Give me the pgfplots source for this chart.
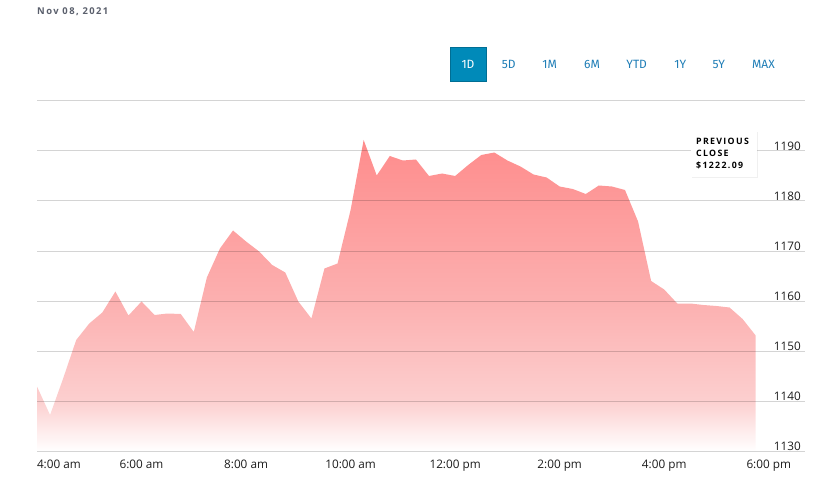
\documentclass[border=0pt]{standalone}
\usepackage{fontspec}
\usepackage{pgfplots}
\pgfplotsset{compat=1.18}
\usetikzlibrary{shadows}

\setmainfont{Open Sans}
\newfontfamily\btnfont{Fira Sans}
\newfontfamily\spaced[LetterSpace=15]{Open Sans}

\definecolor{btnblue}{RGB}{0,138,185}
\definecolor{btntext}{RGB}{30,125,182}
\definecolor{datec}{RGB}{90,95,108}
\definecolor{tickc}{RGB}{28,28,28}
\definecolor{fadeA}{RGB}{252,207,207}
\definecolor{fadeB}{RGB}{252,176,176}
\definecolor{fadeC}{RGB}{254,140,140}

% bounding box of the area maps to 25bp..75bp
\pgfdeclareverticalshading{areafade}{100bp}{color(0bp)=(white); color(25bp)=(white);
  color(33bp)=(fadeA); color(49bp)=(fadeB); color(75bp)=(fadeC); color(100bp)=(fadeC)}

% hours after 4:00 am, price
\pgfplotstableread{
x y
0 1130
0 1142.9
0.25 1137.2
0.5 1144.5
0.75 1152.2
1 1155.5
1.25 1157.7
1.5 1161.9
1.75 1157.1
2 1159.9
2.25 1157.2
2.5 1157.5
2.75 1157.4
3 1153.8
3.25 1164.7
3.5 1170.5
3.75 1174.1
4 1171.9
4.25 1169.9
4.5 1167.2
4.75 1165.7
5 1159.9
5.25 1156.5
5.5 1166.5
5.75 1167.5
6 1178.2
6.25 1192.2
6.5 1185.1
6.75 1189.0
7 1188.1
7.25 1188.3
7.5 1185.0
7.75 1185.5
8 1185.0
8.25 1187.2
8.5 1189.2
8.75 1189.7
9 1188.1
9.25 1186.9
9.5 1185.3
9.75 1184.7
10 1182.9
10.25 1182.4
10.5 1181.4
10.75 1183.1
11 1182.9
11.25 1182.2
11.5 1175.9
11.75 1164.0
12 1162.3
12.25 1159.5
12.5 1159.5
12.75 1159.2
13 1159.0
13.25 1158.7
13.5 1156.4
13.75 1153.1
13.75 1130
}\pricedata

\begin{document}
\begin{tikzpicture}
\path[use as bounding box] (0pt,0pt) rectangle (838pt,488pt);

\begin{axis}[
    at={(37pt,37pt)}, anchor=south west,
    scale only axis, width=768pt, height=350pt,
    xmin=0, xmax=14.694, ymin=1130, ymax=1200,
    axis line style={draw=none},
    major tick length=0pt,
    axis on top,
    ymajorgrids,
    grid style={draw=black, opacity=0.17, line width=1pt},
    ytick={1130,1140,1150,1160,1170,1180,1190,1200},
    yticklabels={1130,1140,1150,1160,1170,1180,1190,{}},
    yticklabel pos=right,
    yticklabel style={anchor=south east, inner sep=0pt, xshift=-4pt, yshift=0.6pt,
        font=\fontsize{11.75}{14}\selectfont, text=tickc},
    xtick={0,2,4,6,8,10,12,14},
    xticklabels={\makebox[0pt][l]{4:00 am},6:00 am,8:00 am,10:00 am,12:00 pm,2:00 pm,4:00 pm,6:00 pm},
    xticklabel style={anchor=north, inner sep=0pt, yshift=-9pt,
        font=\fontsize{11.75}{14}\selectfont, text=tickc},
]
\addplot[draw=none, shade, shading=areafade] table[x=x, y=y] {\pricedata} -- cycle;
\end{axis}

% date
\node[anchor=base west, inner sep=0pt, text=datec, font=\spaced\bfseries\fontsize{9.4}{10}\selectfont]
  at (37pt,473pt) {Nov 08, 2021};

% range buttons
\filldraw[fill=btnblue, draw=btnblue!80!black, line width=0.6pt] (450pt,407pt) rectangle (486pt,441pt);
\node[text=white, font=\btnfont\fontsize{12}{14}\selectfont] at (468pt,423.6pt) {1D};
\foreach \lab/\cx in {5D/508.8, 1M/549.7, 6M/592, YTD/636.7, 1Y/680.3, 5Y/718.8, MAX/763.5}
  \node[text=btntext, font=\btnfont\fontsize{12}{14}\selectfont] at (\cx pt,423.6pt) {\lab};

% previous close box
\filldraw[fill=white, draw=none, drop shadow={opacity=0.12, shadow xshift=1pt, shadow yshift=-1.5pt}]
  (691pt,311.3pt) rectangle (756.7pt,357pt);
\begin{scope}[every node/.style={anchor=base west, inner sep=0pt, text=black,
    font=\spaced\bfseries\fontsize{8.8}{10}\selectfont}]
  \node at (696pt,343pt) {PREVIOUS};
  \node at (696pt,331.3pt) {CLOSE};
  \node at (696pt,319.7pt) {\$1222.09};
\end{scope}
\end{tikzpicture}
\end{document}
